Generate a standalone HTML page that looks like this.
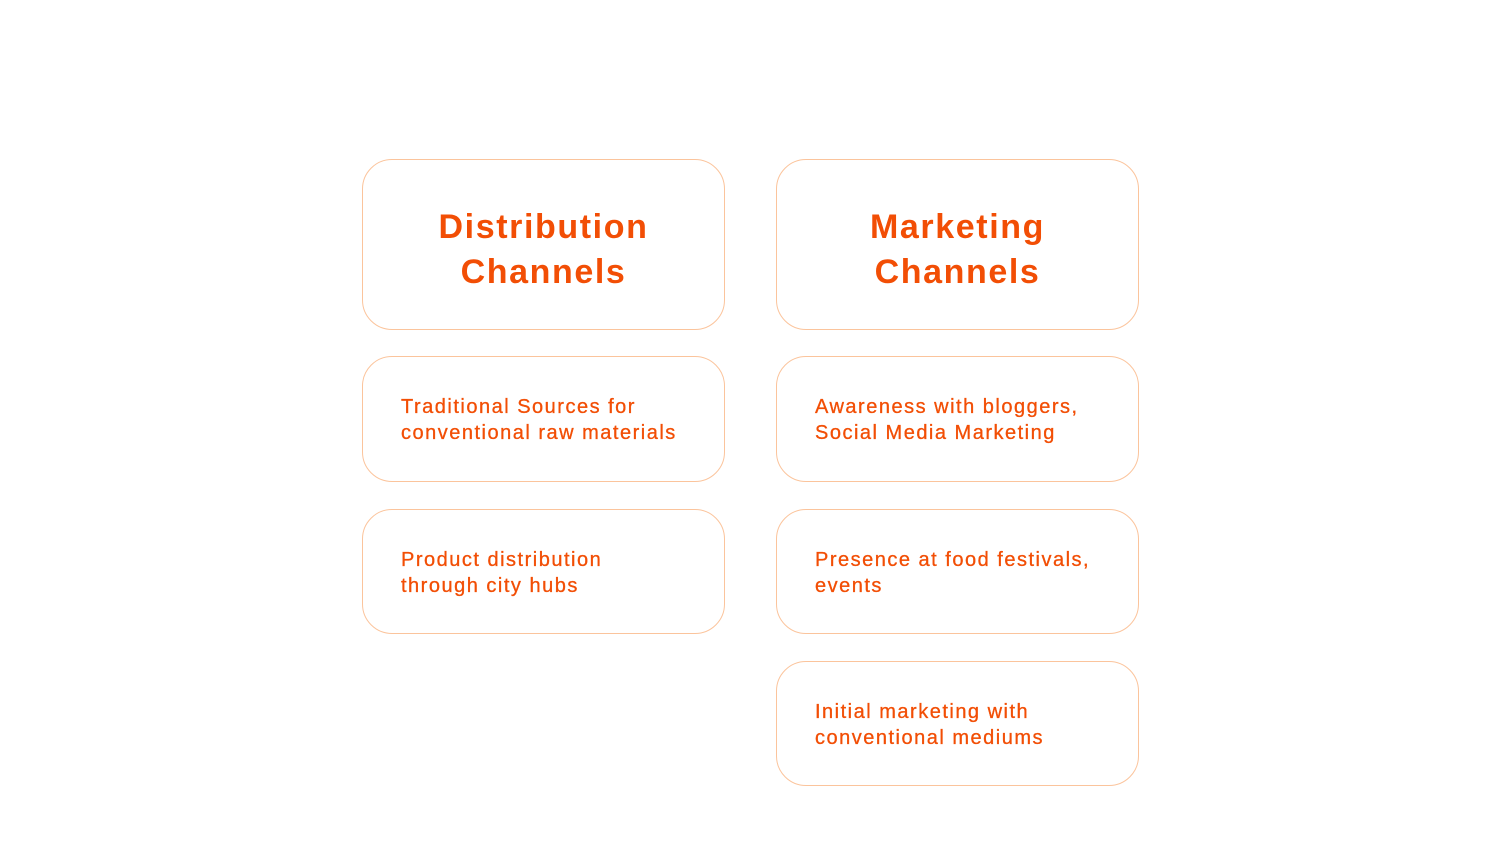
<!DOCTYPE html>
<html><head><style>
body{margin:0;width:1500px;height:844px;background:#fff;position:relative;font-family:"Liberation Sans",sans-serif;}
.b{position:absolute;box-sizing:border-box;border:1.5px solid #fbc49c;border-radius:30px;color:#f24e05;}
.t{font-weight:bold;font-size:34px;line-height:45px;text-align:center;display:flex;align-items:center;justify-content:center;letter-spacing:1.6px;padding-top:10px;}
.s{font-size:20px;line-height:26px;padding-left:38px;padding-top:2px;display:flex;align-items:center;letter-spacing:1.5px;-webkit-text-stroke:0.3px #f24e05;}
</style></head><body>
<div class="b t" style="left:362px;top:159px;width:363px;height:171px;">Distribution<br>Channels</div>
<div class="b t" style="left:776px;top:159px;width:363px;height:171px;">Marketing<br>Channels</div>
<div class="b s" style="left:362px;top:356px;width:363px;height:126px;">Traditional Sources for<br>conventional raw materials</div>
<div class="b s" style="left:362px;top:509px;width:363px;height:125px;">Product distribution<br>through city hubs</div>
<div class="b s" style="left:776px;top:356px;width:363px;height:126px;">Awareness with bloggers,<br>Social Media Marketing</div>
<div class="b s" style="left:776px;top:509px;width:363px;height:125px;">Presence at food festivals,<br>events</div>
<div class="b s" style="left:776px;top:661px;width:363px;height:125px;">Initial marketing with<br>conventional mediums</div>
</body></html>
